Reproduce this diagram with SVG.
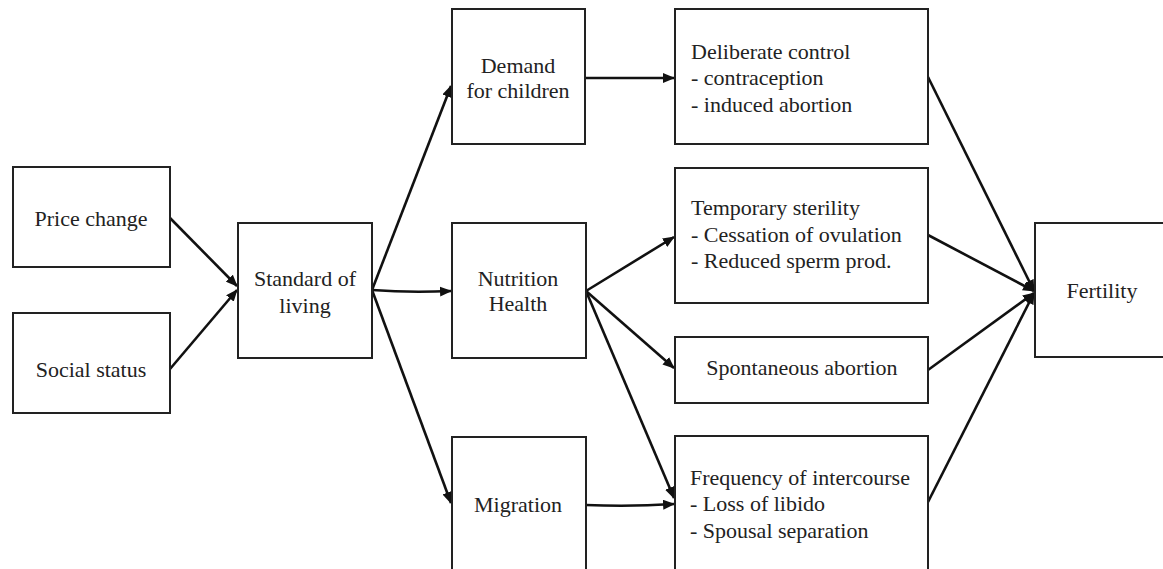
<svg xmlns="http://www.w3.org/2000/svg" width="1163" height="569" viewBox="0 0 1163 569">
<style>
.box{fill:#fff;stroke:#222;stroke-width:2}
.t{font-family:"Liberation Serif","Times New Roman",serif;font-size:22px;fill:#222}
.c{text-anchor:middle}
.edge{fill:none;stroke:#111;stroke-width:2.6}
</style>
<defs>
<marker id="ah" markerUnits="userSpaceOnUse" markerWidth="12" markerHeight="10" refX="11" refY="5" orient="auto">
<path d="M0,0 L12,5 L0,10 z" fill="#111"/>
</marker>
</defs>
<rect width="1163" height="569" fill="#fff"/>
<g id="connectors">
<line class="edge" x1="170" y1="218" x2="237" y2="286" marker-end="url(#ah)"/>
<line class="edge" x1="170" y1="369" x2="237" y2="290" marker-end="url(#ah)"/>
<line class="edge" x1="372" y1="290" x2="451" y2="86" marker-end="url(#ah)"/>
<path class="edge" d="M372,290 Q410,293 451,291" marker-end="url(#ah)"/>
<line class="edge" x1="372" y1="290" x2="451" y2="503" marker-end="url(#ah)"/>
<line class="edge" x1="585" y1="78" x2="674" y2="78" marker-end="url(#ah)"/>
<line class="edge" x1="586" y1="291" x2="674" y2="237" marker-end="url(#ah)"/>
<line class="edge" x1="586" y1="291" x2="674" y2="368" marker-end="url(#ah)"/>
<line class="edge" x1="586" y1="291" x2="674" y2="498" marker-end="url(#ah)"/>
<path class="edge" d="M586,505 Q630,507 674,504" marker-end="url(#ah)"/>
<line class="edge" x1="928" y1="77" x2="1034" y2="291" marker-end="url(#ah)"/>
<line class="edge" x1="928" y1="235" x2="1034" y2="291" marker-end="url(#ah)"/>
<line class="edge" x1="928" y1="370" x2="1034" y2="293" marker-end="url(#ah)"/>
<line class="edge" x1="928" y1="502" x2="1034" y2="293" marker-end="url(#ah)"/>
</g>
<g id="price-change">
<rect class="box" x="13" y="167" width="157" height="100"/>
<text class="t c" x="91" y="226">Price change</text>
</g>
<g id="social-status">
<rect class="box" x="13" y="313" width="157" height="100"/>
<text class="t c" x="91" y="377">Social status</text>
</g>
<g id="standard-of-living">
<rect class="box" x="238" y="223" width="134" height="135"/>
<text class="t c" x="305" y="286">Standard of</text>
<text class="t c" x="305" y="313">living</text>
</g>
<g id="demand-for-children">
<rect class="box" x="452" y="9" width="133" height="135"/>
<text class="t c" x="518" y="73">Demand</text>
<text class="t c" x="518" y="98">for children</text>
</g>
<g id="nutrition-health">
<rect class="box" x="452" y="223" width="134" height="135"/>
<text class="t c" x="518" y="286">Nutrition</text>
<text class="t c" x="518" y="311">Health</text>
</g>
<g id="migration">
<rect class="box" x="452" y="437" width="134" height="140"/>
<text class="t c" x="518" y="512">Migration</text>
</g>
<g id="deliberate-control">
<rect class="box" x="675" y="9" width="253" height="135"/>
<text class="t" x="691" y="59">Deliberate control</text>
<text class="t" x="691" y="85">- contraception</text>
<text class="t" x="691" y="112">- induced abortion</text>
</g>
<g id="temporary-sterility">
<rect class="box" x="675" y="168" width="253" height="135"/>
<text class="t" x="691" y="215">Temporary sterility</text>
<text class="t" x="691" y="242">- Cessation of ovulation</text>
<text class="t" x="691" y="268">- Reduced sperm prod.</text>
</g>
<g id="spontaneous-abortion">
<rect class="box" x="675" y="337" width="253" height="66"/>
<text class="t c" x="802" y="375">Spontaneous abortion</text>
</g>
<g id="frequency-of-intercourse">
<rect class="box" x="675" y="436" width="253" height="141"/>
<text class="t" x="690" y="485">Frequency of intercourse</text>
<text class="t" x="690" y="511">- Loss of libido</text>
<text class="t" x="690" y="538">- Spousal separation</text>
</g>
<g id="fertility">
<rect class="box" x="1035" y="223" width="140" height="134"/>
<text class="t c" x="1102" y="298">Fertility</text>
</g>
</svg>
